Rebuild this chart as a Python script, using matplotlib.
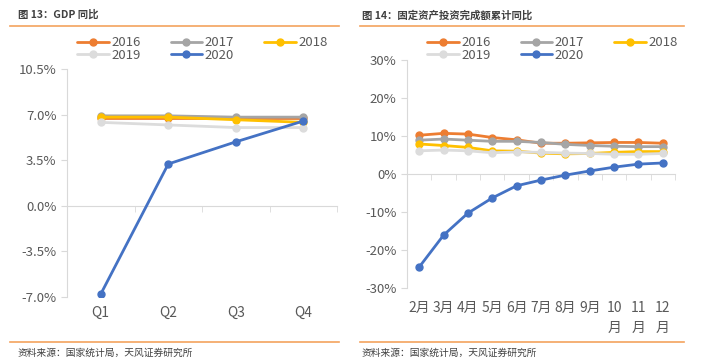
import matplotlib
matplotlib.use('Agg')
import matplotlib.pyplot as plt
from matplotlib.lines import Line2D
from matplotlib.ticker import FixedLocator

plt.rcParams['font.family'] = ['Noto Sans CJK SC', 'DejaVu Sans']

###--- DATA ---###
years = ['2016', '2017', '2018', '2019', '2020']
colors = ['#ED7D31', '#A5A5A5', '#FFC000', '#DCDCDC', '#4472C4']

quarters = ['Q1', 'Q2', 'Q3', 'Q4']
gdp = {
    '2016': [6.7, 6.7, 6.7, 6.7],
    '2017': [6.9, 6.9, 6.8, 6.8],
    '2018': [6.8, 6.8, 6.6, 6.4],
    '2019': [6.4, 6.2, 6.0, 6.0],
    '2020': [-6.8, 3.2, 4.9, 6.5],
}
gdp_ticks = [-7.0, -3.5, 0.0, 3.5, 7.0, 10.5]

months = ['2月', '3月', '4月', '5月', '6月', '7月', '8月', '9月', '10\n月', '11\n月', '12\n月']
fai = {
    '2016': [10.2, 10.7, 10.5, 9.6, 9.0, 8.1, 8.1, 8.2, 8.3, 8.3, 8.1],
    '2017': [8.9, 9.2, 8.9, 8.6, 8.6, 8.3, 7.8, 7.5, 7.3, 7.2, 7.2],
    '2018': [7.9, 7.5, 7.0, 6.1, 6.0, 5.5, 5.3, 5.4, 5.7, 5.9, 5.9],
    '2019': [6.1, 6.3, 6.1, 5.6, 5.8, 5.7, 5.5, 5.4, 5.2, 5.2, 5.4],
    '2020': [-24.5, -16.1, -10.3, -6.3, -3.1, -1.6, -0.3, 0.8, 1.8, 2.6, 2.9],
}
fai_ticks = [-30, -20, -10, 0, 10, 20, 30]

W, H = 701, 360
fig = plt.figure(figsize=(W / 100, H / 100), dpi=100)

ORANGE = '#F4A35E'
GRID = '#D9D9D9'
TXT = '#595959'


def px(x, y):
    return x / W, 1 - y / H


def panel(rect, cats, data, ticks, fmt, lim, title, tx, line_x, leg_x, lab_off):
    ax = fig.add_axes(rect)
    n = len(cats)
    xs = list(range(n))
    handles = []
    for yr, c in zip(years, colors):
        h, = ax.plot(xs, data[yr], color=c, lw=2, marker='o', ms=5,
                     solid_capstyle='round', zorder=3 if yr != '2020' else 4)
        handles.append(h)
    ax.set_xlim(-0.5, n - 0.5)
    ax.set_ylim(*lim)
    ax.set_yticks(ticks)
    ax.set_yticklabels([fmt.format(t) for t in ticks])
    for s in ['top', 'right']:
        ax.spines[s].set_visible(False)
    ax.spines['left'].set_color(GRID)
    ax.spines['bottom'].set_position(('data', 0))
    ax.spines['bottom'].set_color(GRID)
    ax.tick_params(axis='y', colors=GRID, labelcolor=TXT, labelsize=9.5, length=4)
    ax.set_xticks([])
    ax.xaxis.set_minor_locator(FixedLocator([i + 0.5 for i in range(n)]))
    ax.tick_params(axis='x', which='minor', colors=GRID, length=4, labelbottom=False)
    for i, lab in enumerate(cats):
        ax.text(i, -lab_off, lab, transform=ax.get_xaxis_transform(), ha='center',
                va='top', fontsize=10, color=TXT, linespacing=1.55)
    order = [0, 3, 1, 4, 2]
    fig.legend([handles[i] for i in order], [years[i] for i in order],
               ncol=3, frameon=False, loc='upper left',
               bbox_to_anchor=px(leg_x, 31), fontsize=9.5, handlelength=2.4,
               handletextpad=0.2, columnspacing=2.25, labelspacing=-0.05,
               borderaxespad=0, labelcolor=TXT)
    fig.text(*px(tx, 15), title, fontsize=7.5, fontweight='bold', color='#404040',
             va='center')
    fig.add_artist(Line2D([line_x[0] / W, line_x[1] / W], [1 - 25.5 / H] * 2,
                          color=ORANGE, lw=1.2))
    fig.add_artist(Line2D([line_x[0] / W, line_x[1] / W], [1 - 342 / H] * 2,
                          color=ORANGE, lw=1.2))
    fig.text(*px(tx, 353), '资料来源：国家统计局，天风证券研究所', fontsize=7,
             color='#404040', va='center')
    return ax


panel([67 / W, 1 - 296.7 / H, 270 / W, 227.7 / H], quarters, gdp, gdp_ticks,
      '{:.1f}%', (-7.0, 10.5), '图 13：GDP 同比', 18, (10, 339), 72, 0.04)
panel([407 / W, 1 - 288 / H, 268 / W, 228 / H], months, fai, fai_ticks,
      '{:.0f}%', (-30, 30), '图 14：固定资产投资完成额累计同比', 362, (360, 684), 422, 0.055)

fig.savefig('out.png', dpi=100)
